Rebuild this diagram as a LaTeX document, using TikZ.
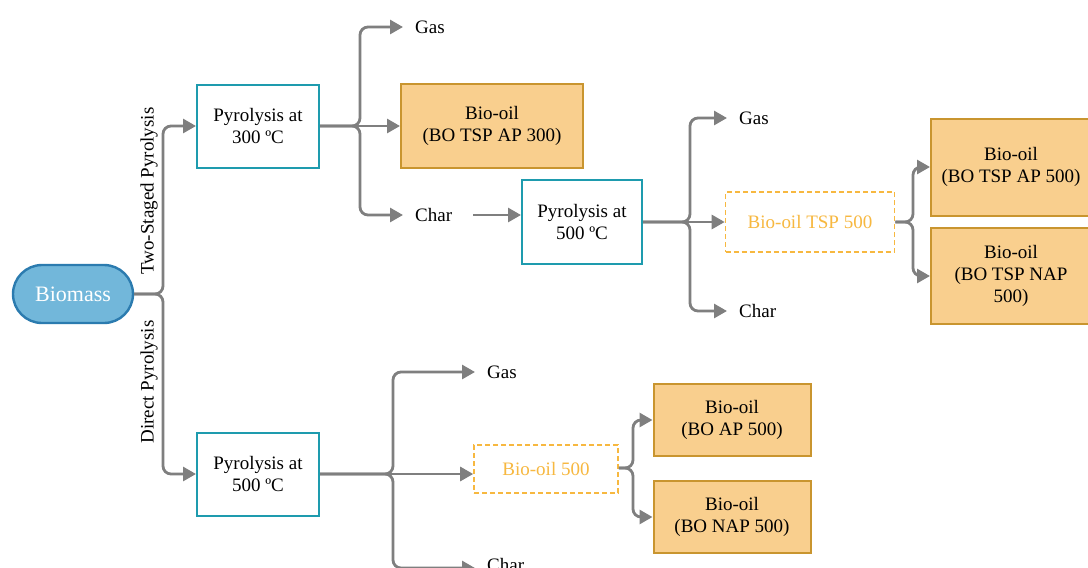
\documentclass[tikz,border=0pt]{standalone}
\usepackage{fontspec}
\setmainfont{Liberation Serif}
\usetikzlibrary{arrows.meta,calc}
\definecolor{arrgray}{HTML}{7F7F7F}
\definecolor{teal1}{HTML}{1E9BAE}
\definecolor{orfill}{HTML}{F9CF8E}
\definecolor{ordraw}{HTML}{C9952F}
\definecolor{ortext}{HTML}{F7B840}
\definecolor{biofill}{HTML}{72B7DA}
\definecolor{biodraw}{HTML}{2B7BAF}
\tikzset{
  arr/.style={draw=arrgray, line width=2.8pt, rounded corners=8pt,
    -{Triangle[length=13pt,width=14pt]}},
  procbox/.style={draw=teal1, line width=2pt, fill=white, align=center,
    minimum width=122pt, minimum height=83pt, inner sep=2pt},
  oilbox/.style={draw=ordraw, line width=2pt, fill=orfill, align=center,
    inner sep=2pt},
  dashbox/.style={draw=ortext, line width=1.6pt, dashed, dash pattern=on 5pt off 3pt,
    text=ortext, align=center, inner sep=2pt},
  lbl/.style={inner xsep=12pt, inner ysep=2pt},
  every node/.style={font=\fontsize{19}{22}\selectfont}
}
\begin{document}
\begin{tikzpicture}[x=1pt,y=-1pt]
\useasboundingbox (0,0) rectangle (1088,568);
\fill[white] (0,0) rectangle (1088,568);

% nodes
\node[draw=biodraw, fill=biofill, line width=2.4pt, rounded corners=29pt,
  minimum width=120pt, minimum height=58pt, text=white,
  font=\fontsize{22}{26}\selectfont] (bio) at (73,294) {Biomass};

\node[procbox] (p300) at (258,126) {Pyrolysis at\\300 ºC};
\node[procbox] (p500b) at (258,474) {Pyrolysis at\\500 ºC};
\node[procbox, minimum width=120pt, minimum height=84pt] (p500a) at (582,222) {Pyrolysis at\\500 ºC};

\node[rotate=90] (lts) at (149,191) {Two-Staged Pyrolysis};
\node[rotate=90] (ldp) at (149,382) {Direct Pyrolysis};

\node[lbl, anchor=west] (gas1) at (403,27) {Gas};
\node[oilbox, minimum width=182pt, minimum height=84pt] (bo300) at (492,126) {Bio-oil\\(BO TSP AP 300)};
\node[lbl, anchor=west] (char1) at (403,215) {Char};

\node[lbl, anchor=west] (gas2) at (727,118) {Gas};
\node[dashbox, minimum width=169pt, minimum height=60pt] (tsp500) at (810,222) {Bio-oil TSP 500};
\node[lbl, anchor=west] (char2) at (727,311) {Char};

\node[oilbox, minimum width=160pt, minimum height=97pt] (aptsp) at (1011,167) {Bio-oil\\(BO TSP AP 500)};
\node[oilbox, minimum width=160pt, minimum height=96pt] (naptsp) at (1011,276) {Bio-oil\\(BO TSP NAP\\500)};

\node[lbl, anchor=west] (gas3) at (475,372) {Gas};
\node[dashbox, minimum width=144pt, minimum height=48pt] (bo500) at (546,469) {Bio-oil 500};
\node[lbl, anchor=west] (char3) at (475,565) {Char};

\node[oilbox, minimum width=157pt, minimum height=72pt] (ap500) at (732,420) {Bio-oil\\(BO AP 500)};
\node[oilbox, minimum width=157pt, minimum height=72pt] (nap500) at (732,517) {Bio-oil\\(BO NAP 500)};

% junction coordinates
\coordinate (j0) at (163,294);
\coordinate (j1) at (360,126);
\coordinate (j2) at (690,222);
\coordinate (j3) at (913,222);
\coordinate (j4) at (393,474);
\coordinate (j5) at (633,468);

% connectors
\draw[arr] (bio.east) -- (j0) |- (p300.west);
\draw[arr] (bio.east) -- (j0) |- (p500b.west);

\draw[arr] (p300.east) -- (j1) |- (gas1.west);
\draw[arr] (p300.east) -- (bo300.west);
\draw[arr] (p300.east) -- (j1) |- (char1.west);
\draw[arr] ([xshift=9pt]char1.east) -- (char1.east -| p500a.west);

\draw[arr] (p500a.east) -- (j2) |- (gas2.west);
\draw[arr] (p500a.east) -- (tsp500.west);
\draw[arr] (p500a.east) -- (j2) |- (char2.west);

\draw[arr] (tsp500.east) -- (j3) |- (aptsp.west);
\draw[arr] (tsp500.east) -- (j3) |- (naptsp.west);

\draw[arr] (p500b.east) -- (j4) |- (gas3.west);
\draw[arr] (p500b.east) -- (bo500.west |- j4);
\draw[arr] (p500b.east) -- (j4) |- ([yshift=-3pt]char3.west);

\draw[arr] (bo500.east |- j5) -- (j5) |- (ap500.west);
\draw[arr] (bo500.east |- j5) -- (j5) |- (nap500.west);
\end{tikzpicture}
\end{document}
